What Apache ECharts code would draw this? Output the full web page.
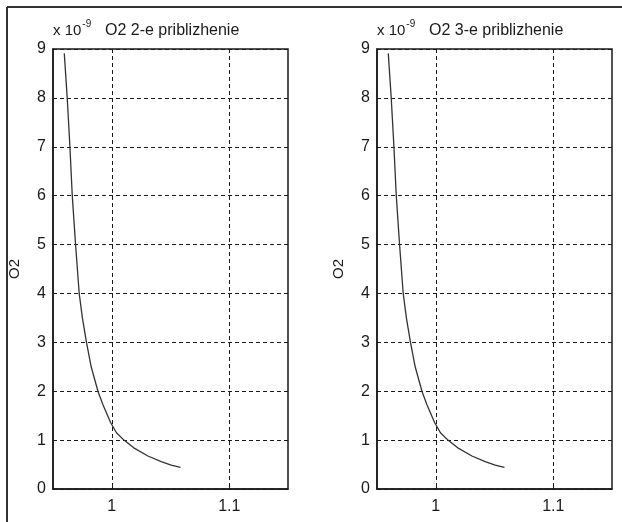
<!DOCTYPE html>
<html><head><meta charset="utf-8">
<script src="https://cdn.jsdelivr.net/npm/echarts@6/dist/echarts.min.js"></script>
<style>html,body{margin:0;padding:0;background:#fff}#c{width:622px;height:522px}</style>
</head><body><div id="c"></div>
<script>
const titles = ['O2 2-e priblizhenie', 'O2 3-e priblizhenie'];
const yName = 'O2';
const xTicks = [1, 1.1];
const yTicks = [0, 1, 2, 3, 4, 5, 6, 7, 8, 9];
const x1 = [0.9596, 0.9621, 0.9644, 0.9664, 0.9692, 0.9723, 0.9750, 0.9785, 0.9825, 0.9856, 0.9884, 0.9926, 0.9990, 1.0040, 1.0104, 1.0195, 1.0308, 1.0421, 1.0506, 1.0585];
const y1 = [8.91, 8.0, 7.0, 6.0, 5.0, 4.0, 3.5, 3.0, 2.5, 2.23, 1.99, 1.72, 1.36, 1.15, 1.0, 0.83, 0.675, 0.56, 0.49, 0.44];
const x2 = [0.9596, 0.9621, 0.9644, 0.9664, 0.9692, 0.9723, 0.9750, 0.9785, 0.9825, 0.9856, 0.9884, 0.9926, 0.9990, 1.0040, 1.0104, 1.0195, 1.0308, 1.0421, 1.0506, 1.0585];
const y2 = [8.91, 8.0, 7.0, 6.0, 5.0, 4.0, 3.5, 3.0, 2.5, 2.23, 1.99, 1.72, 1.36, 1.15, 1.0, 0.83, 0.675, 0.56, 0.49, 0.44];

const ink = '#1a1a1a';
const font = 'Arial, "Liberation Sans", sans-serif';
const grids = [
  {left: 53, top: 49, width: 235, height: 440},
  {left: 377, top: 49, width: 235, height: 440}
];
function xAx(i) {
  return {
    type: 'value', gridIndex: i, min: 0.95, max: 1.15,
    axisLine: {show: true, lineStyle: {color: ink, width: 1.5}},
    axisTick: {show: true, inside: true, length: 4, customValues: xTicks, lineStyle: {color: ink}},
    axisLabel: {customValues: xTicks, color: ink, fontSize: 16, fontFamily: font, margin: 10,
      formatter: v => String(Math.round(v * 10) / 10)},
    splitLine: {show: true, lineStyle: {color: ink, type: [4, 3], width: 1}}
  };
}
function yAx(i) {
  return {
    type: 'value', gridIndex: i, min: yTicks[0], max: yTicks[yTicks.length - 1], interval: 1,
    name: yName, nameLocation: 'middle', nameGap: 31,
    nameTextStyle: {color: ink, fontSize: 15, fontFamily: font},
    axisLine: {show: true, lineStyle: {color: ink, width: 1.5}},
    axisTick: {show: true, inside: true, length: 4, lineStyle: {color: ink}},
    axisLabel: {color: ink, fontSize: 16, fontFamily: font, margin: 7},
    splitLine: {show: true, lineStyle: {color: ink, type: [4, 3], width: 1}}
  };
}
const xs = [x1, x2], ys = [y1, y2];
const option = {
  animation: false,
  backgroundColor: '#fff',
  grid: grids.map(g => Object.assign({show: true, borderColor: ink, borderWidth: 1.5, backgroundColor: 'transparent'}, g)),
  title: titles.map((t, i) => ({
    text: t, left: grids[i].left + 47, top: 18,
    textStyle: {color: ink, fontSize: 16, fontWeight: 'normal', fontFamily: font}
  })),
  xAxis: [xAx(0), xAx(1)],
  yAxis: [yAx(0), yAx(1)],
  series: [0, 1].map(i => ({
    type: 'line', xAxisIndex: i, yAxisIndex: i, showSymbol: false, smooth: false,
    lineStyle: {color: '#333', width: 1.3},
    data: xs[i].map((x, k) => [x, ys[i][k]])
  })),
  graphic: [
    {type: 'line', shape: {x1: 7, y1: 7, x2: 622, y2: 7}, style: {stroke: '#333', lineWidth: 2}},
    {type: 'line', shape: {x1: 7, y1: 7, x2: 7, y2: 522}, style: {stroke: '#333', lineWidth: 2}}
  ].concat(grids.map(g => ({
    type: 'text', left: g.left, top: 19,
    style: {
      text: '{a|x 10}{b|-9}', fill: ink,
      rich: {
        a: {fontSize: 15, fontFamily: font, fill: ink, verticalAlign: 'bottom'},
        b: {fontSize: 10, fontFamily: font, fill: ink, verticalAlign: 'top', padding: [0, 0, 9, 1]}
      }
    }
  })))
};
const chart = echarts.init(document.getElementById('c'), null, {renderer: 'canvas'});
chart.setOption(option);
</script></body></html>
